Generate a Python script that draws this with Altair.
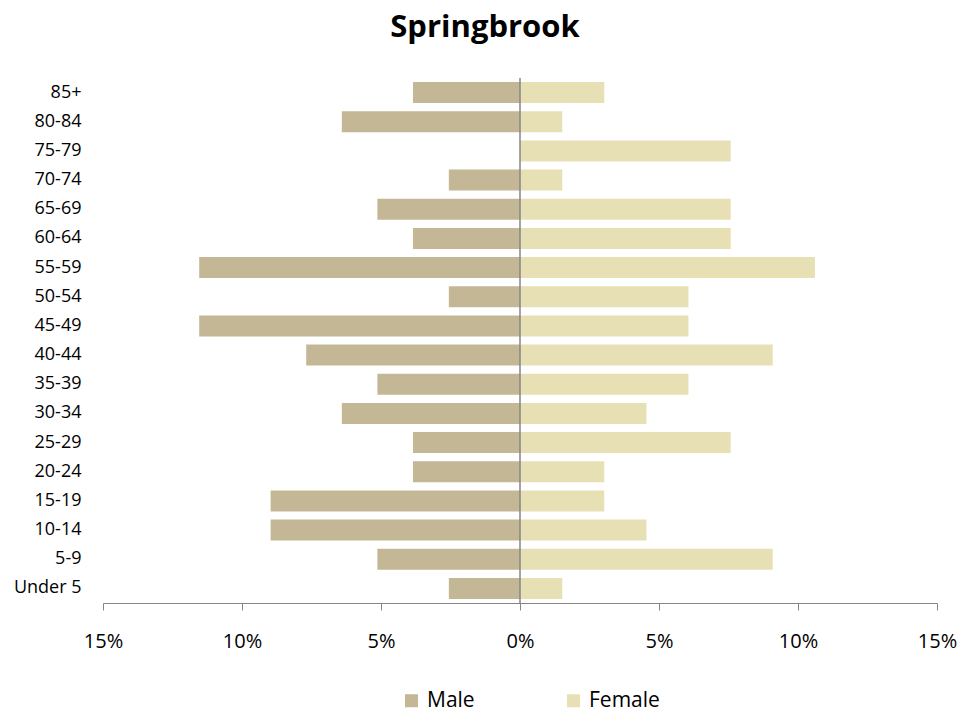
import altair as alt
import pandas as pd

ages = ["85+", "80-84", "75-79", "70-74", "65-69", "60-64", "55-59", "50-54", "45-49",
        "40-44", "35-39", "30-34", "25-29", "20-24", "15-19", "10-14", "5-9", "Under 5"]
male = [3.85, 6.41, 0.0, 2.56, 5.13, 3.85, 11.54, 2.56, 11.54,
        7.69, 5.13, 6.41, 3.85, 3.85, 8.97, 8.97, 5.13, 2.56]
female = [3.03, 1.52, 7.58, 1.52, 7.58, 7.58, 10.61, 6.06, 6.06,
          9.09, 6.06, 4.55, 7.58, 3.03, 3.03, 4.55, 9.09, 1.52]

rows = []
for a, m, f in zip(ages, male, female):
    rows.append({"age": a, "sex": "Male", "value": -m})
    rows.append({"age": a, "sex": "Female", "value": f})
df = pd.DataFrame(rows)

FONT = "Open Sans"
AXIS_GRAY = "#868686"

bars = alt.Chart(df).mark_bar().encode(
    y=alt.Y("age:N", sort=ages, title=None,
            scale=alt.Scale(paddingInner=0.28, paddingOuter=0.14),
            axis=alt.Axis(domain=False, ticks=False, labelPadding=22,
                          labelFontSize=18, labelFont=FONT, labelColor="#000000")),
    x=alt.X("value:Q", title=None,
            scale=alt.Scale(domain=[-15, 15], nice=False),
            axis=alt.Axis(values=[-15, -10, -5, 0, 5, 10, 15],
                          labelExpr="format(abs(datum.value), '.0f') + '%'",
                          labelFlush=False, labelOverlap=False,
                          grid=False, domainColor=AXIS_GRAY, tickColor=AXIS_GRAY,
                          tickSize=7, labelPadding=21, labelFontSize=20,
                          labelFont=FONT, labelColor="#000000")),
    color=alt.Color("sex:N",
                    scale=alt.Scale(domain=["Male", "Female"], range=["#C4B795", "#E8E0B5"]),
                    legend=alt.Legend(title=None, orient="none", direction="horizontal",
                                      legendX=298, legendY=612, symbolType="square",
                                      symbolSize=170, symbolStrokeWidth=0,
                                      labelFontSize=21, labelFont=FONT,
                                      labelColor="#000000", columnPadding=88,
                                      labelOffset=5)),
)

zero = alt.Chart(pd.DataFrame({"value": [0]})).mark_rule(color=AXIS_GRAY, strokeWidth=1.5).encode(
    x=alt.X("value:Q")
)

chart = alt.layer(bars, zero).properties(
    width=834, height=525,
    title=alt.TitleParams("Springbrook", fontSize=31, font=FONT, fontWeight="bold",
                          color="#000000", dx=-35, offset=33),
    autosize=alt.AutoSizeParams(type="none"),
    padding={"left": 95, "top": 70, "right": 34, "bottom": 110},
).configure_view(stroke=None)

chart.save("out.html", embed_options={"renderer": "svg", "actions": False})
